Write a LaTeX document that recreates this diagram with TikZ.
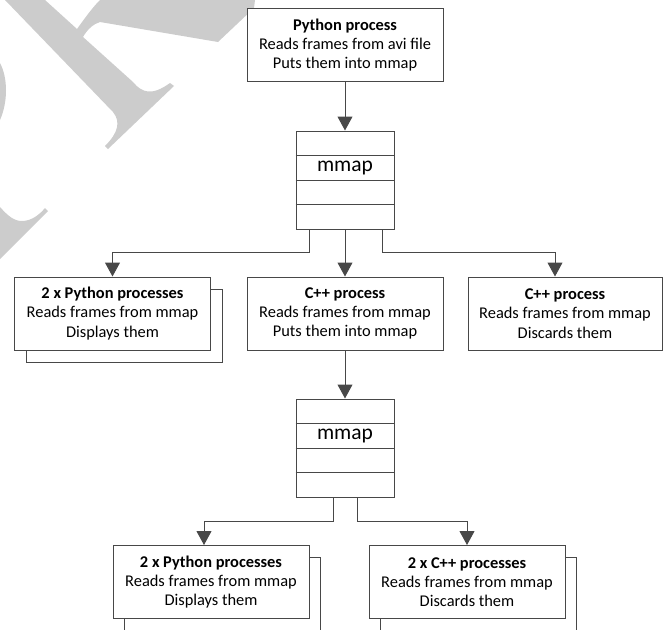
\documentclass[tikz,border=0pt]{standalone}
\usepackage{fontspec}
\setmainfont{Carlito}
\usetikzlibrary{arrows.meta,calc,shadows}
\definecolor{wm}{HTML}{CCCCCC}
\definecolor{ln}{HTML}{484848}
\begin{document}
\begin{tikzpicture}[x=1pt,y=-1pt,
  proc/.style={draw=ln, line width=1pt, fill=white, minimum width=196pt,
    minimum height=73pt, align=center, inner sep=0pt,
    font=\fontsize{16.4}{19.2}\selectfont},
  shadowed/.style={copy shadow={draw=ln, line width=1pt, fill=white,
    shadow xshift=11.5pt, shadow yshift=-12pt}},
  mm/.style={draw=ln, line width=1pt, fill=white, minimum width=98pt,
    minimum height=98pt, inner sep=0pt},
  mmtext/.style={font=\fontsize{21.5}{24}\selectfont, inner sep=0pt},
  rowline/.style={draw=ln, line width=1pt},
  arr/.style={draw=ln, line width=1pt, -{Triangle[length=14pt,width=15pt]}, color=ln}
]
\useasboundingbox (0,0) rectangle (669,629);

% watermark fragments
\fill[wm] (5,0) -- (45,0) -- (77,29) .. controls (85,18) and (92,8) .. (100,0)
  -- (255,0) -- (254,8) -- (218,42) -- (100,22)
  .. controls (93,24) and (87,30) .. (83,37) -- (133,82)
  .. controls (142,93) and (152,96) .. (170,83) -- (174,86) -- (108,149)
  -- (105,146) .. controls (118,133) and (121,122) .. (113,112) -- cycle;
\fill[wm] (0,63) .. controls (8,78) and (8,102) .. (0,120) -- cycle;
\fill[wm] (0,207) .. controls (8,216) and (14,221) .. (22,221)
  .. controls (32,221) and (40,214) .. (45,208) -- (48,211) -- (0,259) -- cycle;

% top process
\node[proc] (top) at (345,45) {\textbf{Python process}\\Reads frames from avi file\\Puts them into mmap};

% first mmap
\node[mm] (m1) at (345,180) {};
\foreach \f in {0.25,0.5,0.75}
  \draw[rowline] ($(m1.north west)!\f!(m1.south west)$) -- ($(m1.north east)!\f!(m1.south east)$);
\node[mmtext] (m1t) at ($(m1.north)!0.375!(m1.south)$) {mmap};

% second level
\node[proc, shadowed] (b1) at (112.5,313.5) {\textbf{2 x Python processes}\\Reads frames from mmap\\Displays them};
\node[proc] (b2) at (345,313.5) {\textbf{C++ process}\\Reads frames from mmap\\Puts them into mmap};
\node[proc, minimum width=194pt] (b3) at (565,313.5) {\textbf{C++ process}\\Reads frames from mmap\\Discards them};

% second mmap
\node[mm] (m2) at (345,448) {};
\foreach \f in {0.25,0.5,0.75}
  \draw[rowline] ($(m2.north west)!\f!(m2.south west)$) -- ($(m2.north east)!\f!(m2.south east)$);
\node[mmtext] (m2t) at ($(m2.north)!0.375!(m2.south)$) {mmap};

% third level
\node[proc, shadowed] (c1) at (211,582) {\textbf{2 x Python processes}\\Reads frames from mmap\\Displays them};
\node[proc, shadowed] (c2) at (467,582) {\textbf{2 x C++ processes}\\Reads frames from mmap\\Discards them};

% connectors
\draw[arr] (top.south) -- (m1.north);
\draw[arr] ([xshift=-36pt]m1.south) -- ++(0,23) -| (b1.north);
\draw[arr] (m1.south) -- (b2.north);
\draw[arr] ([xshift=37pt]m1.south) -- ++(0,23) -| ([xshift=-10pt]b3.north);
\draw[arr] (b2.south) -- (m2.north);
\draw[arr] ([xshift=-12pt]m2.south) -- ++(0,24) -| ([xshift=-7pt]c1.north);
\draw[arr] ([xshift=12pt]m2.south) -- ++(0,24) -| (c2.north);
\end{tikzpicture}
\end{document}
